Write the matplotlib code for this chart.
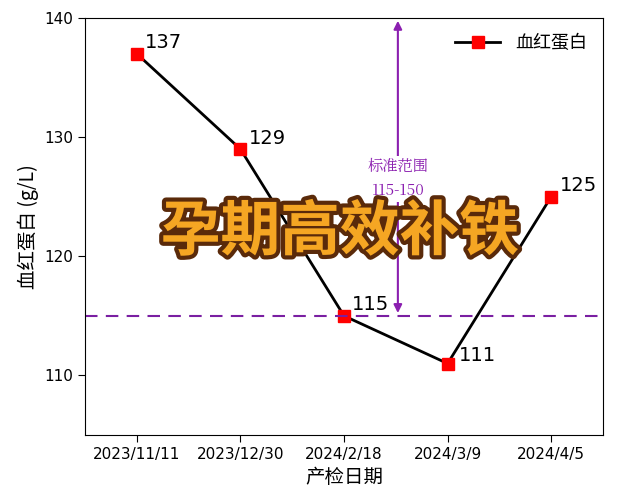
import matplotlib
matplotlib.use("Agg")
import matplotlib.pyplot as plt
import matplotlib.patheffects as pe

plt.rcParams['font.family'] = ['Noto Sans CJK SC', 'DejaVu Sans']

dates = ["2023/11/11", "2023/12/30", "2024/2/18", "2024/3/9", "2024/4/5"]
hb = [137, 129, 115, 111, 125]
ref_low, ref_high = 115, 150

fig = plt.figure(figsize=(6.27, 5.0), dpi=100)
ax = fig.add_axes([85/627, 65/500, 518/627, 417/500])
x = list(range(len(dates)))
ax.plot(x, hb, color='black', lw=2, marker='s', ms=8, mfc='red', mec='red', label='血红蛋白')
offs = [(6, 4), (6, 4), (6, 4), (8, 2), (6, 4)]
for xi, v, o in zip(x, hb, offs):
    ax.annotate(str(v), (xi, v), xytext=o, textcoords='offset points', fontsize=14,
                family=['DejaVu Sans'])
ax.axhline(ref_low, color='#7a1fa2', ls='--', lw=1.5, dashes=(6, 4))
xa = 2.52
ax.annotate('', xy=(xa, 140), xytext=(xa, 115),
            arrowprops=dict(arrowstyle='<|-|>', color='#8b1fb0', lw=1.5, mutation_scale=12))
ax.text(xa, 126.5, f'标准范围\n{ref_low}-{ref_high}', ha='center', va='center', fontsize=11,
        color='#8b1fb0', family=['Noto Serif CJK SC', 'Noto Sans CJK SC'], linespacing=1.6,
        bbox=dict(fc='white', ec='none', pad=2))
ax.set_xlim(-0.5, 4.5)
ax.set_ylim(105, 140)
ax.set_yticks([110, 120, 130, 140])
ax.set_xticks(x)
ax.set_xticklabels(dates, fontsize=11, family=['DejaVu Sans'])
for t in ax.get_yticklabels():
    t.set_family(['DejaVu Sans'])
ax.tick_params(axis='y', labelsize=11)
ax.tick_params(direction='out', length=5)
ax.set_xlabel('产检日期', fontsize=14)
ax.set_ylabel('血红蛋白 (g/L)', fontsize=14)
leg = ax.legend(loc='upper right', fontsize=13, frameon=False, handlelength=2.5)
fig.text(340/627, 1-233/500, '孕期高效补铁', ha='center', va='center', fontsize=43,
         fontweight='bold', color='#f5a623',
         path_effects=[pe.withStroke(linewidth=6, foreground='#5a2a0a')])
fig.savefig('out.png', dpi=100)
